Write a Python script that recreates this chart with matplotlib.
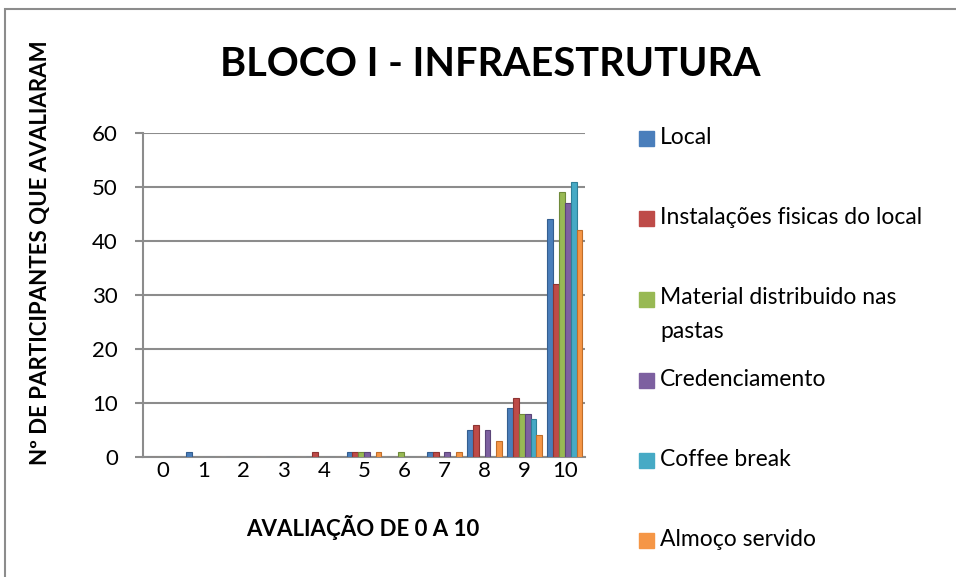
import numpy as np
import matplotlib.pyplot as plt
from matplotlib.patches import Rectangle

plt.rcParams['font.family'] = ['Lato', 'DejaVu Sans']

# --- dados ---
notas = list(range(11))
series = ['Local', 'Instalações fisicas do local', 'Material distribuido nas\npastas',
          'Credenciamento', 'Coffee break', 'Almoço servido']
local = [0, 1, 0, 0, 0, 1, 0, 1, 5, 9, 44]
instalacoes = [0, 0, 0, 0, 1, 1, 0, 1, 6, 11, 32]
material = [0, 0, 0, 0, 0, 1, 1, 0, 0, 8, 49]
credenciamento = [0, 0, 0, 0, 0, 1, 0, 1, 5, 8, 47]
coffee = [0, 0, 0, 0, 0, 0, 0, 0, 0, 7, 51]
almoco = [0, 0, 0, 0, 0, 1, 0, 1, 3, 4, 42]
valores = [local, instalacoes, material, credenciamento, coffee, almoco]

cores = ['#4A7EBB', '#BE4B48', '#98B954', '#7D60A0', '#46AAC5', '#F59646']
bordas = ['#345E90', '#8E3432', '#6F8A3A', '#5B4578', '#2F8098', '#C06E2A']

W, H = 956, 577
fig = plt.figure(figsize=(W / 100, H / 100), dpi=100)

# moldura do grafico
fig.patches.append(Rectangle((5 / W, -0.1), 1.2, 1 - 9 / H + 0.1, transform=fig.transFigure,
                             fill=False, edgecolor='#8C8C8C', linewidth=1.5))

ax = fig.add_axes([143 / W, 1 - 457 / H, (585 - 143) / W, (457 - 133) / H])

x = np.arange(len(notas))
w = 0.145
for i, (vals, cor, borda) in enumerate(zip(valores, cores, bordas)):
    ax.bar(x + (i - 2.5) * w, vals, width=w, color=cor, edgecolor=borda, linewidth=0.8, zorder=3)

ax.set_xlim(-0.5, 10.5)
ax.set_ylim(0, 60)
ax.set_yticks(range(0, 61, 10))
ax.set_xticks(x)
ax.set_xticklabels([str(n) for n in notas])
ax.yaxis.grid(True, color='#8C8C8C', linewidth=1.5, zorder=0)
ax.set_axisbelow(True)
for s in ['top', 'right']:
    ax.spines[s].set_visible(False)
for s in ['left', 'bottom']:
    ax.spines[s].set_color('#8C8C8C')
    ax.spines[s].set_linewidth(1.5)
ax.tick_params(axis='y', length=6, width=1.5, color='#8C8C8C', labelsize=16, pad=12)
ax.tick_params(axis='x', length=0, labelsize=16, pad=3)

fig.text(490 / W, 1 - 65 / H, 'BLOCO I - INFRAESTRUTURA', ha='center', va='center',
         fontsize=28.5, fontweight='bold')
fig.text(363 / W, 1 - 528 / H, 'AVALIAÇÃO DE 0 A 10', ha='center', va='center',
         fontsize=16, fontweight='bold')
fig.text(41 / W, 1 - 253 / H, 'Nº DE PARTICIPANTES QUE AVALIARAM', ha='center', va='center',
         rotation=90, fontsize=16, fontweight='bold')

# legenda
leg_y = [138, 218, 299, 380, 460, 540]
for nome, cor, y in zip(series, cores, leg_y):
    fig.patches.append(Rectangle((639 / W, 1 - (y + 7.5) / H), 15 / W, 15 / H,
                                 transform=fig.transFigure, color=cor))
    if '\n' in nome:
        fig.text(660 / W, 1 - (y - 12) / H, nome, ha='left', va='top', fontsize=16.5,
                 linespacing=1.75)
    else:
        fig.text(660 / W, 1 - y / H, nome, ha='left', va='center', fontsize=16.5)

fig.savefig('out.png', dpi=100)
